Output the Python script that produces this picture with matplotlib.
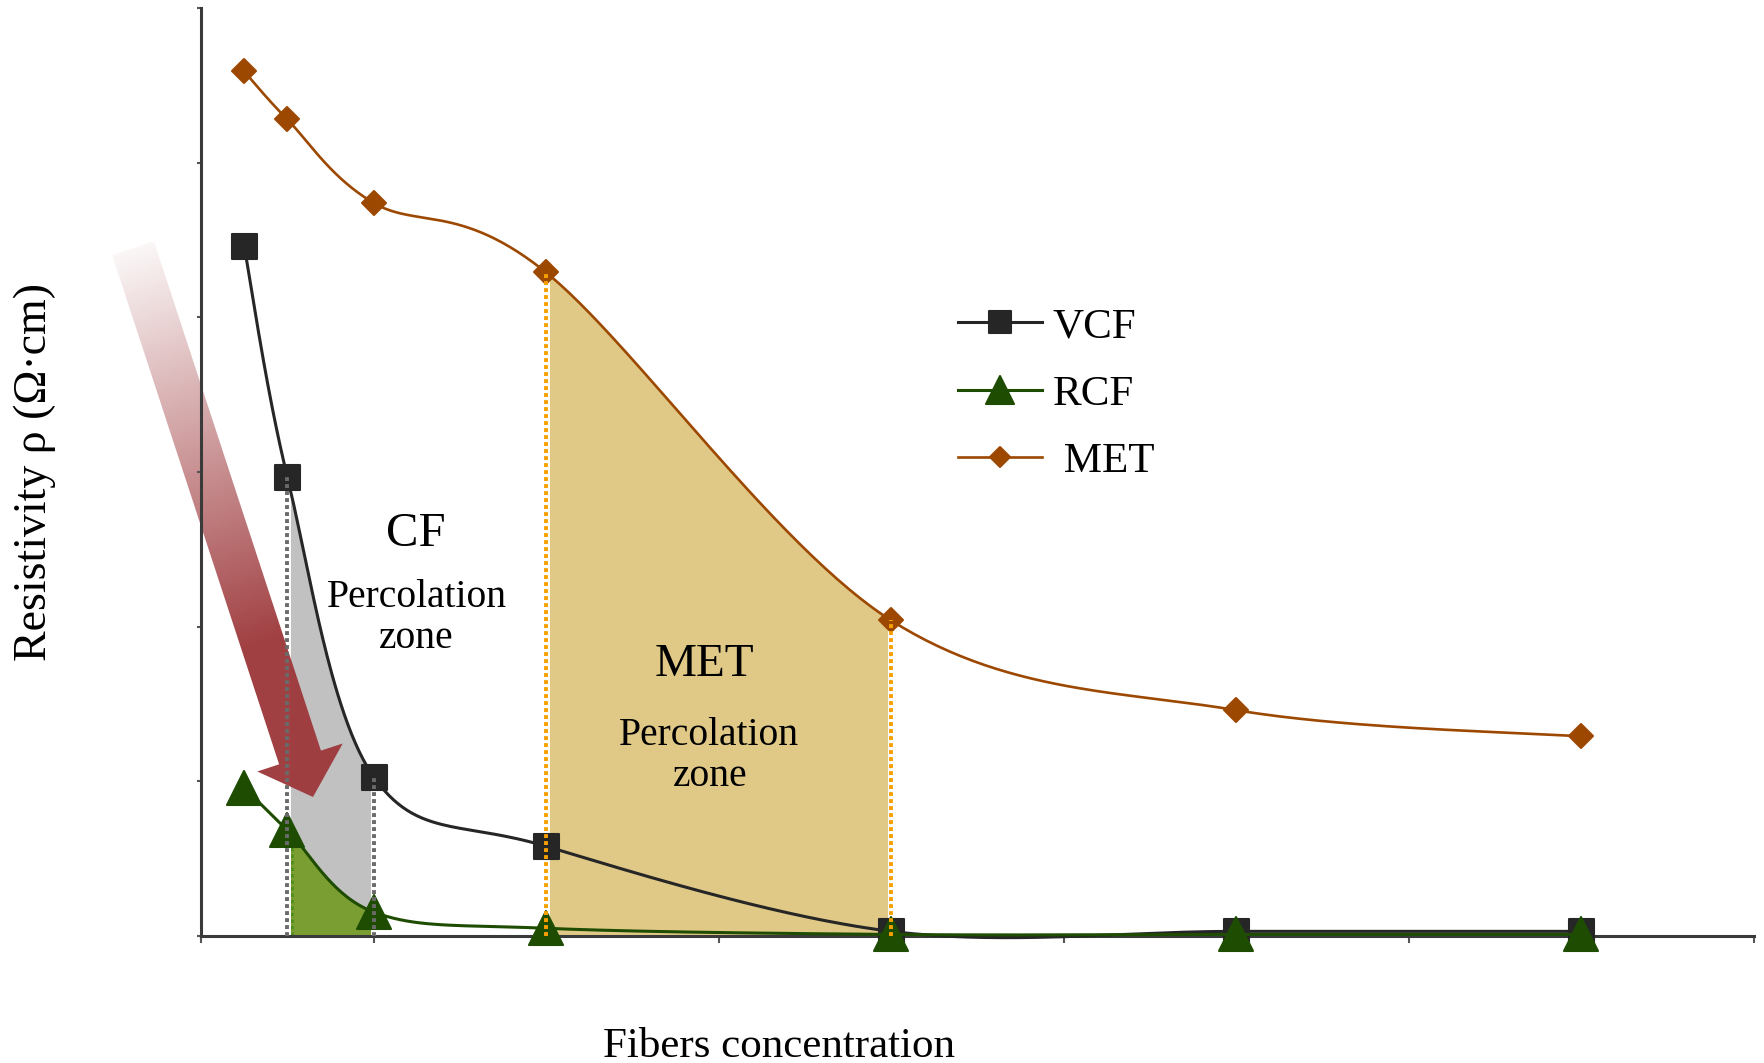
import numpy as np
import matplotlib
matplotlib.use("Agg")
import matplotlib.pyplot as plt
from matplotlib.lines import Line2D
from matplotlib.markers import MarkerStyle
from matplotlib.patches import Polygon

plt.rcParams['font.family'] = ['Liberation Serif', 'DejaVu Serif']

# ---- data -------------------------------------------------------------
concentration = [0.25, 0.5, 1, 2, 4, 6, 8]
vcf = [4.46, 2.97, 1.03, 0.58, 0.03, 0.03, 0.03]
rcf = [0.96, 0.685, 0.155, 0.05, 0.01, 0.01, 0.01]
met = [5.59, 5.28, 4.74, 4.29, 2.04, 1.46, 1.29]
series_labels = ['VCF', 'RCF', ' MET']
cf_zone = (0.5, 1)     # CF percolation zone (fiber concentration bounds)
met_zone = (2, 4)      # MET percolation zone

# ---- figure / axes ----------------------------------------------------
W, H = 1764, 1063
fig = plt.figure(figsize=(W / 100, H / 100), dpi=100)
rect = [201 / W, 1 - 936 / H, (1754 - 201) / W, (936 - 8) / H]
XMAX, YMAX = 9, 6

ax_back = fig.add_axes(rect)            # fills
ax_arrow = fig.add_axes([0, 0, 1, 1])   # decorative arrow, pixel coordinates
ax = fig.add_axes(rect)                 # curves, axes, labels
ax_back.set_zorder(0)
ax_arrow.set_zorder(1)
ax.set_zorder(2)
ax.patch.set_alpha(0)
for a in (ax_back, ax):
    a.set_xlim(0, XMAX)
    a.set_ylim(0, YMAX)
ax_back.axis('off')
ax_arrow.axis('off')

# pixels per data unit, so the smoothing is done in screen aspect
sx = rect[2] * W / XMAX
sy = rect[3] * H / YMAX


def smooth_segments(xs, ys, n=60):
    """Bezier segments through the points (Catmull-Rom style smoothing)."""
    P = np.column_stack([np.asarray(xs, float) * sx, np.asarray(ys, float) * sy])
    E = np.vstack([P[0], P, P[-1]])
    t = np.linspace(0, 1, n)[:, None]
    segs = []
    for i in range(len(P) - 1):
        p0, p1, p2, p3 = E[i], E[i + 1], E[i + 2], E[i + 3]
        c1 = p1 + (p2 - p0) / 6
        c2 = p2 - (p3 - p1) / 6
        B = ((1 - t) ** 3) * p1 + 3 * ((1 - t) ** 2) * t * c1 \
            + 3 * (1 - t) * t ** 2 * c2 + t ** 3 * p2
        segs.append(B / [sx, sy])
    return segs


def joined(segs):
    return np.vstack([segs[0]] + [s[1:] for s in segs[1:]])


def area_under(axes, seg, color, z):
    poly = np.vstack([seg, [[seg[-1, 0], 0], [seg[0, 0], 0]]])
    axes.fill(poly[:, 0], poly[:, 1], color=color, lw=0, zorder=z)


seg_vcf = smooth_segments(concentration, vcf)
seg_rcf = smooth_segments(concentration, rcf)
seg_met = smooth_segments(concentration, met)

i0, i1 = concentration.index(cf_zone[0]), concentration.index(cf_zone[1])
j0, j1 = concentration.index(met_zone[0]), concentration.index(met_zone[1])

# ---- shaded percolation zones ----------------------------------------
area_under(ax_back, joined(seg_vcf[i0:i1]), '#c1c1c1', 1)
area_under(ax_back, joined(seg_rcf[i0:i1]), '#7b9e32', 1.1)
area_under(ax_back, joined(seg_met[j0:j1]), '#e0c986', 1)

guides = [(concentration[i0], vcf[i0], '#6a6a6a'),
          (concentration[i1], vcf[i1], '#6a6a6a'),
          (concentration[j0], met[j0], '#f7a100'),
          (concentration[j1], met[j1], '#f7a100')]

# white under-strokes for the dotted guides
for x, top, _ in guides:
    ax_back.plot([x, x], [0, top], color='white', lw=5, zorder=2,
                 solid_capstyle='butt')

# ---- gradient arrow ---------------------------------------------------
p0 = np.array([133.0, 248.0])
tip = np.array([313.0, 797.0])
L = np.linalg.norm(tip - p0)
u = (tip - p0) / L
nrm = np.array([u[1], -u[0]])
shaft_hw, head_hw, head_len = 22.0, 45.0, 41.6
s_head = L - head_len
verts = np.array([p0 + shaft_hw * nrm,
                  p0 + shaft_hw * nrm + s_head * u,
                  p0 + head_hw * nrm + s_head * u,
                  tip,
                  p0 - head_hw * nrm + s_head * u,
                  p0 - shaft_hw * nrm + s_head * u,
                  p0 - shaft_hw * nrm])
x0, x1 = verts[:, 0].min() - 5, verts[:, 0].max() + 5
y0, y1 = verts[:, 1].min() - 5, verts[:, 1].max() + 5
gx = np.arange(x0, x1, 1.0) + 0.5
gy = np.arange(y0, y1, 1.0) + 0.5
GX, GY = np.meshgrid(gx, gy)
s = ((GX - p0[0]) * u[0] + (GY - p0[1]) * u[1]) / L
alpha = np.clip(0.04 + 1.3 * s, 0, 0.97)
rgba = np.zeros(GX.shape + (4,))
rgba[..., 0] = 158 / 255
rgba[..., 1] = 58 / 255
rgba[..., 2] = 61 / 255
rgba[..., 3] = alpha
im = ax_arrow.imshow(rgba, extent=(x0, x0 + len(gx), y0 + len(gy), y0),
                     origin='upper', aspect='auto', interpolation='bilinear')
im.set_clip_path(Polygon(verts, closed=True, transform=ax_arrow.transData))
ax_arrow.set_xlim(0, W)
ax_arrow.set_ylim(H, 0)

# ---- series -------------------------------------------------------------
styles = [
    dict(y=vcf, segs=seg_vcf, color='#262626', lw=2.2, marker='s', ms=18,
         lms=16),
    dict(y=rcf, segs=seg_rcf, color='#1e4d02', lw=2.2, marker='^', ms=24,
         lms=20),
    dict(y=met, segs=seg_met, color='#9c4800', lw=1.9, marker='D', ms=12,
         lms=10.5),
]
handles = []
for k, st in enumerate(styles):
    c = joined(st['segs'])
    ax.plot(c[:, 0], c[:, 1], color=st['color'], lw=st['lw'], zorder=3 + k,
            clip_on=False, solid_capstyle='round')
    ax.plot(concentration, st['y'], ls='none',
            marker=MarkerStyle(st['marker'], joinstyle='round'), ms=st['ms'],
            mfc=st['color'], mec=st['color'], mew=1.5, zorder=3.5 + k,
            clip_on=False)
    handles.append(Line2D([], [], color=st['color'], lw=st['lw'],
                          marker=MarkerStyle(st['marker'], joinstyle='round'),
                          ms=st['lms'], mfc=st['color'], mec=st['color'],
                          mew=1.5))

# ---- dotted guides ------------------------------------------------------
dot = (0, (1, 0.8))
for x, top, col in guides:
    ax.plot([x, x], [0, top], color=col, lw=2.8, ls=dot, zorder=8,
            dash_capstyle='butt')
ax_back.plot([0.53, 0.53], [0, 0.6], color='#4f8e1e', lw=2.6, ls=dot,
             zorder=1.5, dash_capstyle='butt')

# ---- zone labels ----------------------------------------------------------
ax.text(1.246, 2.52, 'CF', ha='center', va='baseline', fontsize=35)
ax.text(1.25, 2.127, 'Percolation', ha='center', va='baseline', fontsize=28.5)
ax.text(1.25, 1.862, 'zone', ha='center', va='baseline', fontsize=28.5)
ax.text(2.92, 1.68, 'MET', ha='center', va='baseline', fontsize=34)
ax.text(2.943, 1.235, 'Percolation', ha='center', va='baseline', fontsize=28.5)
ax.text(2.95, 0.97, 'zone', ha='center', va='baseline', fontsize=28.5)

# ---- axes styling ---------------------------------------------------------
for side in ('top', 'right'):
    ax.spines[side].set_visible(False)
for side in ('left', 'bottom'):
    ax.spines[side].set_color('#3a3a3a')
    ax.spines[side].set_linewidth(2.2)
ax.set_xticks(range(XMAX + 1))
ax.set_yticks(range(YMAX + 1))
ax.tick_params(axis='x', direction='out', length=5, width=1.5, color='#555555',
               labelbottom=False)
ax.tick_params(axis='y', direction='out', length=3, width=1.5, color='#555555',
               labelleft=False)

ax.set_xlabel('Fibers concentration', fontsize=31, va='baseline')
ax.xaxis.set_label_coords((779 - 201) / (1754 - 201), (936 - 1057) / (936 - 8))
ax.set_ylabel('Resistivity \u03c1 (\u03a9\u00b7cm)', fontsize=33, va='center')
ax.yaxis.set_label_coords((35 - 201) / (1754 - 201), (936 - 472) / (936 - 8))

ax.legend(handles, series_labels, loc='center left',
          bbox_to_anchor=(958 / W, 1 - 394 / H), bbox_transform=fig.transFigure,
          frameon=False, fontsize=31, handlelength=1.95, handletextpad=0.25,
          labelspacing=0.65, borderpad=0, borderaxespad=0)

fig.savefig('out.png', dpi=100)
